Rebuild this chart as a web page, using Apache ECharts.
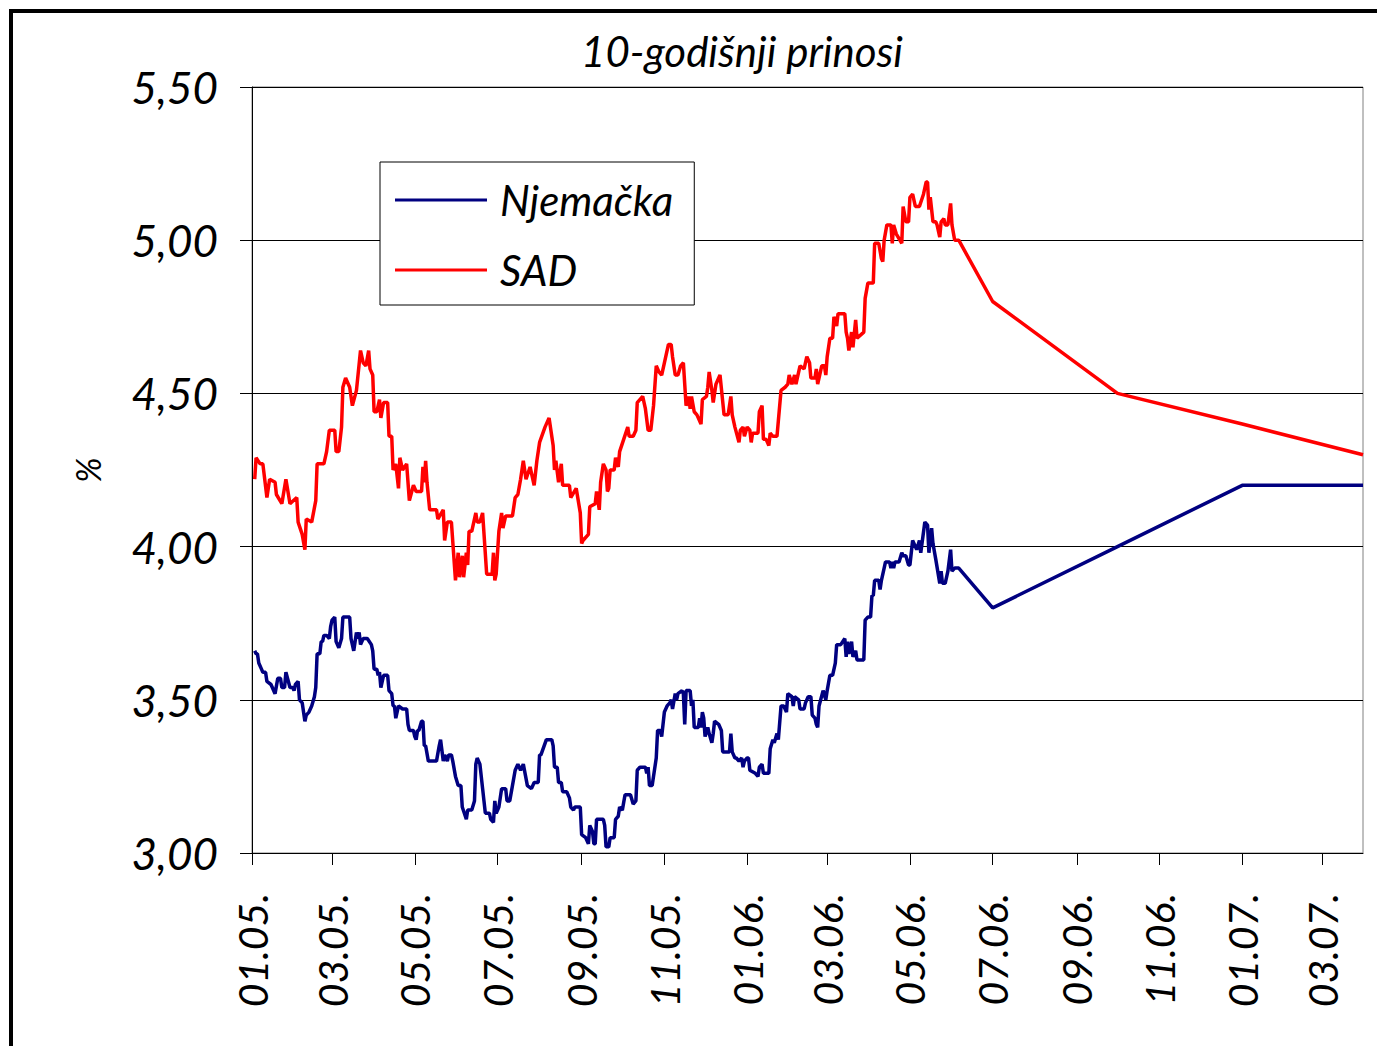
<!DOCTYPE html>
<html>
<head>
<meta charset="utf-8">
<script src="https://cdn.jsdelivr.net/npm/echarts@6/dist/echarts.min.js"></script>
<style>html,body{margin:0;padding:0;background:#fff;}#c{width:1377px;height:1046px;}</style>
</head>
<body>
<div id="c"></div>
<script>
const titleText = '10-godišnji prinosi';
const yAxisName = '%';
const seriesNames = ['Njemačka', 'SAD'];
const yTicks = [3.0, 3.5, 4.0, 4.5, 5.0, 5.5];
const xTickMonths = ['2005-01','2005-03','2005-05','2005-07','2005-09','2005-11','2006-01','2006-03','2006-05','2006-07','2006-09','2006-11','2007-01','2007-03'];
const xMin = '2005-01-01';
const xMax = '2007-03-31';

const usDates = ['2005-01-03','2005-01-04','2005-01-07','2005-01-09','2005-01-12','2005-01-14','2005-01-18','2005-01-19','2005-01-23','2005-01-26','2005-01-29','2005-02-03','2005-02-04','2005-02-07','2005-02-09','2005-02-10','2005-02-14','2005-02-17','2005-02-18','2005-02-23','2005-02-25','2005-02-27','2005-03-03','2005-03-04','2005-03-06','2005-03-08','2005-03-09','2005-03-11','2005-03-14','2005-03-16','2005-03-19','2005-03-22','2005-03-24','2005-03-26','2005-03-28','2005-03-29','2005-03-31','2005-04-01','2005-04-03','2005-04-05','2005-04-06','2005-04-08','2005-04-11','2005-04-12','2005-04-14','2005-04-15','2005-04-17','2005-04-19','2005-04-20','2005-04-22','2005-04-25','2005-04-27','2005-04-30','2005-05-02','2005-05-06','2005-05-07','2005-05-08','2005-05-09','2005-05-10','2005-05-12','2005-05-17','2005-05-18','2005-05-22','2005-05-23','2005-05-25','2005-05-28','2005-05-31','2005-06-02','2005-06-03','2005-06-05','2005-06-06','2005-06-08','2005-06-09','2005-06-10','2005-06-12','2005-06-15','2005-06-16','2005-06-18','2005-06-20','2005-06-23','2005-06-27','2005-06-28','2005-06-29','2005-06-30','2005-07-02','2005-07-04','2005-07-05','2005-07-07','2005-07-12','2005-07-14','2005-07-16','2005-07-18','2005-07-20','2005-07-22','2005-07-25','2005-07-28','2005-07-30','2005-08-01','2005-08-05','2005-08-08','2005-08-11','2005-08-12','2005-08-13','2005-08-15','2005-08-17','2005-08-18','2005-08-23','2005-08-24','2005-08-28','2005-08-31','2005-09-01','2005-09-02','2005-09-06','2005-09-07','2005-09-11','2005-09-12','2005-09-14','2005-09-15','2005-09-17','2005-09-19','2005-09-20','2005-09-21','2005-09-22','2005-09-25','2005-09-26','2005-09-28','2005-09-29','2005-10-02','2005-10-05','2005-10-06','2005-10-09','2005-10-11','2005-10-12','2005-10-16','2005-10-18','2005-10-20','2005-10-22','2005-10-24','2005-10-26','2005-10-28','2005-10-30','2005-11-01','2005-11-04','2005-11-06','2005-11-07','2005-11-09','2005-11-11','2005-11-13','2005-11-15','2005-11-17','2005-11-19','2005-11-20','2005-11-21','2005-11-23','2005-11-25','2005-11-28','2005-11-29','2005-12-02','2005-12-03','2005-12-04','2005-12-06','2005-12-07','2005-12-09','2005-12-12','2005-12-15','2005-12-18','2005-12-20','2005-12-21','2005-12-23','2005-12-26','2005-12-27','2005-12-29','2005-12-30','2006-01-01','2006-01-03','2006-01-04','2006-01-05','2006-01-09','2006-01-10','2006-01-12','2006-01-13','2006-01-15','2006-01-17','2006-01-18','2006-01-20','2006-01-23','2006-01-24','2006-01-26','2006-01-29','2006-01-31','2006-02-01','2006-02-03','2006-02-05','2006-02-06','2006-02-08','2006-02-09','2006-02-12','2006-02-14','2006-02-16','2006-02-17','2006-02-20','2006-02-21','2006-02-22','2006-02-25','2006-02-27','2006-02-28','2006-03-01','2006-03-03','2006-03-05','2006-03-06','2006-03-08','2006-03-09','2006-03-14','2006-03-15','2006-03-16','2006-03-17','2006-03-19','2006-03-20','2006-03-22','2006-03-23','2006-03-28','2006-03-29','2006-03-31','2006-04-04','2006-04-05','2006-04-08','2006-04-10','2006-04-11','2006-04-12','2006-04-14','2006-04-17','2006-04-18','2006-04-19','2006-04-21','2006-04-25','2006-04-26','2006-04-28','2006-04-30','2006-05-01','2006-05-03','2006-05-05','2006-05-08','2006-05-11','2006-05-13','2006-05-14','2006-05-15','2006-05-16','2006-05-18','2006-05-20','2006-05-21','2006-05-23','2006-05-24','2006-05-26','2006-05-27','2006-05-29','2006-05-31','2006-06-01','2006-06-03','2006-06-06','2006-07-01','2006-10-01','2007-01-01','2007-03-31'];
const usValues = [4.22,4.29,4.27,4.27,4.16,4.22,4.21,4.17,4.14,4.22,4.14,4.16,4.08,4.04,3.99,4.09,4.08,4.15,4.27,4.27,4.31,4.38,4.38,4.31,4.31,4.39,4.52,4.55,4.52,4.46,4.51,4.64,4.60,4.59,4.64,4.58,4.56,4.44,4.44,4.48,4.42,4.47,4.47,4.36,4.36,4.25,4.27,4.19,4.29,4.25,4.27,4.15,4.20,4.18,4.18,4.26,4.21,4.28,4.21,4.12,4.12,4.09,4.12,4.02,4.08,4.08,3.89,3.98,3.90,3.97,3.90,3.98,3.94,4.05,4.05,4.11,4.08,4.08,4.11,3.91,3.91,3.98,3.89,3.91,4.05,4.11,4.06,4.10,4.10,4.16,4.17,4.22,4.28,4.22,4.26,4.20,4.28,4.34,4.39,4.42,4.33,4.25,4.28,4.21,4.27,4.20,4.20,4.16,4.19,4.11,4.01,4.02,4.04,4.13,4.14,4.18,4.12,4.21,4.27,4.25,4.18,4.19,4.25,4.25,4.29,4.26,4.31,4.35,4.39,4.36,4.36,4.38,4.47,4.49,4.45,4.38,4.38,4.46,4.59,4.57,4.56,4.60,4.66,4.66,4.62,4.56,4.56,4.59,4.60,4.46,4.49,4.45,4.49,4.44,4.43,4.40,4.48,4.49,4.52,4.57,4.51,4.47,4.53,4.56,4.43,4.43,4.49,4.43,4.39,4.34,4.38,4.39,4.36,4.39,4.38,4.34,4.37,4.37,4.44,4.46,4.35,4.35,4.33,4.37,4.36,4.36,4.41,4.51,4.52,4.53,4.56,4.53,4.56,4.53,4.57,4.59,4.58,4.62,4.60,4.55,4.55,4.58,4.53,4.59,4.59,4.56,4.62,4.68,4.68,4.75,4.72,4.76,4.76,4.70,4.68,4.64,4.70,4.65,4.74,4.68,4.70,4.81,4.86,4.86,4.99,4.99,4.94,4.93,5.00,5.05,5.05,4.99,5.05,5.02,4.99,5.11,5.06,5.06,5.14,5.15,5.11,5.11,5.15,5.19,5.19,5.10,5.14,5.06,5.06,5.05,5.01,5.06,5.07,5.05,5.05,5.12,5.05,5.00,5.00,4.80,4.50,4.40,4.30];

const deDates = ['2005-01-03','2005-01-04','2005-01-05','2005-01-06','2005-01-08','2005-01-09','2005-01-11','2005-01-12','2005-01-15','2005-01-18','2005-01-20','2005-01-22','2005-01-23','2005-01-25','2005-01-26','2005-01-29','2005-01-31','2005-02-01','2005-02-02','2005-02-04','2005-02-05','2005-02-07','2005-02-09','2005-02-10','2005-02-12','2005-02-14','2005-02-16','2005-02-17','2005-02-18','2005-02-20','2005-02-21','2005-02-22','2005-02-23','2005-02-25','2005-02-27','2005-02-28','2005-03-01','2005-03-03','2005-03-04','2005-03-06','2005-03-08','2005-03-09','2005-03-14','2005-03-15','2005-03-17','2005-03-19','2005-03-20','2005-03-21','2005-03-22','2005-03-24','2005-03-27','2005-03-30','2005-03-31','2005-04-01','2005-04-03','2005-04-04','2005-04-05','2005-04-06','2005-04-08','2005-04-11','2005-04-12','2005-04-14','2005-04-15','2005-04-16','2005-04-17','2005-04-19','2005-04-22','2005-04-25','2005-04-26','2005-04-27','2005-04-30','2005-05-01','2005-05-02','2005-05-03','2005-05-04','2005-05-06','2005-05-07','2005-05-08','2005-05-09','2005-05-11','2005-05-17','2005-05-19','2005-05-20','2005-05-22','2005-05-23','2005-05-25','2005-05-26','2005-05-28','2005-05-29','2005-05-31','2005-06-02','2005-06-04','2005-06-05','2005-06-08','2005-06-09','2005-06-12','2005-06-14','2005-06-15','2005-06-16','2005-06-18','2005-06-20','2005-06-21','2005-06-22','2005-06-25','2005-06-26','2005-06-28','2005-06-29','2005-06-30','2005-07-02','2005-07-04','2005-07-07','2005-07-08','2005-07-10','2005-07-12','2005-07-14','2005-07-16','2005-07-18','2005-07-20','2005-07-23','2005-07-26','2005-07-28','2005-07-31','2005-08-01','2005-08-02','2005-08-06','2005-08-10','2005-08-11','2005-08-12','2005-08-14','2005-08-15','2005-08-17','2005-08-18','2005-08-21','2005-08-23','2005-08-24','2005-08-26','2005-08-27','2005-08-31','2005-09-01','2005-09-04','2005-09-06','2005-09-07','2005-09-09','2005-09-10','2005-09-11','2005-09-12','2005-09-14','2005-09-15','2005-09-17','2005-09-18','2005-09-19','2005-09-21','2005-09-22','2005-09-25','2005-09-26','2005-09-28','2005-09-29','2005-10-01','2005-10-03','2005-10-07','2005-10-09','2005-10-11','2005-10-12','2005-10-14','2005-10-18','2005-10-19','2005-10-20','2005-10-21','2005-10-23','2005-10-26','2005-10-27','2005-10-29','2005-10-30','2005-11-01','2005-11-03','2005-11-05','2005-11-06','2005-11-07','2005-11-09','2005-11-10','2005-11-11','2005-11-14','2005-11-15','2005-11-16','2005-11-17','2005-11-19','2005-11-20','2005-11-21','2005-11-22','2005-11-23','2005-11-26','2005-11-27','2005-11-28','2005-11-29','2005-11-30','2005-12-01','2005-12-03','2005-12-04','2005-12-06','2005-12-07','2005-12-08','2005-12-11','2005-12-13','2005-12-14','2005-12-19','2005-12-20','2005-12-21','2005-12-23','2005-12-24','2005-12-26','2005-12-28','2005-12-29','2005-12-30','2006-01-01','2006-01-02','2006-01-03','2006-01-07','2006-01-09','2006-01-10','2006-01-12','2006-01-13','2006-01-17','2006-01-18','2006-01-20','2006-01-21','2006-01-23','2006-01-24','2006-01-26','2006-01-28','2006-01-30','2006-01-31','2006-02-03','2006-02-04','2006-02-05','2006-02-08','2006-02-09','2006-02-12','2006-02-13','2006-02-15','2006-02-17','2006-02-18','2006-02-20','2006-02-21','2006-02-22','2006-02-23','2006-02-26','2006-02-28','2006-03-01','2006-03-03','2006-03-05','2006-03-07','2006-03-08','2006-03-11','2006-03-14','2006-03-15','2006-03-16','2006-03-17','2006-03-19','2006-03-20','2006-03-22','2006-03-23','2006-03-28','2006-03-29','2006-03-31','2006-04-02','2006-04-03','2006-04-04','2006-04-05','2006-04-08','2006-04-09','2006-04-10','2006-04-12','2006-04-13','2006-04-16','2006-04-17','2006-04-18','2006-04-19','2006-04-20','2006-04-23','2006-04-25','2006-04-26','2006-04-28','2006-04-30','2006-05-01','2006-05-02','2006-05-03','2006-05-06','2006-05-08','2006-05-09','2006-05-12','2006-05-14','2006-05-15','2006-05-17','2006-05-18','2006-05-20','2006-05-23','2006-05-24','2006-05-25','2006-05-27','2006-05-29','2006-05-31','2006-06-01','2006-06-03','2006-06-06','2006-07-01','2006-10-01','2007-01-01','2007-03-31'];
const deValues = [3.66,3.65,3.65,3.62,3.60,3.59,3.59,3.56,3.55,3.52,3.57,3.57,3.54,3.54,3.59,3.54,3.54,3.53,3.55,3.56,3.50,3.49,3.43,3.45,3.46,3.48,3.51,3.54,3.65,3.65,3.69,3.69,3.71,3.71,3.70,3.74,3.76,3.77,3.69,3.67,3.70,3.77,3.77,3.70,3.66,3.72,3.70,3.72,3.68,3.70,3.70,3.68,3.66,3.60,3.60,3.58,3.59,3.54,3.58,3.58,3.53,3.52,3.48,3.48,3.44,3.48,3.47,3.47,3.42,3.40,3.40,3.38,3.37,3.40,3.40,3.43,3.43,3.35,3.35,3.30,3.30,3.35,3.37,3.30,3.32,3.30,3.32,3.32,3.30,3.25,3.22,3.22,3.15,3.11,3.14,3.14,3.17,3.29,3.31,3.29,3.21,3.17,3.13,3.13,3.11,3.10,3.17,3.13,3.15,3.21,3.21,3.17,3.17,3.22,3.27,3.29,3.27,3.29,3.22,3.21,3.23,3.23,3.32,3.32,3.37,3.37,3.35,3.28,3.28,3.23,3.23,3.20,3.20,3.18,3.15,3.14,3.15,3.15,3.06,3.05,3.03,3.09,3.07,3.03,3.03,3.11,3.11,3.11,3.11,3.09,3.02,3.02,3.05,3.05,3.11,3.12,3.15,3.14,3.19,3.19,3.16,3.17,3.27,3.28,3.28,3.26,3.28,3.22,3.22,3.31,3.40,3.40,3.38,3.46,3.48,3.49,3.50,3.47,3.52,3.50,3.52,3.53,3.52,3.42,3.53,3.53,3.53,3.48,3.50,3.41,3.41,3.44,3.41,3.46,3.44,3.38,3.41,3.39,3.36,3.39,3.43,3.42,3.40,3.33,3.33,3.39,3.33,3.31,3.31,3.30,3.31,3.28,3.30,3.31,3.31,3.27,3.26,3.25,3.28,3.29,3.26,3.26,3.34,3.37,3.36,3.39,3.37,3.48,3.48,3.46,3.52,3.51,3.48,3.51,3.50,3.47,3.47,3.49,3.51,3.51,3.45,3.44,3.42,3.41,3.48,3.53,3.50,3.53,3.58,3.58,3.62,3.68,3.68,3.70,3.64,3.69,3.65,3.69,3.64,3.66,3.63,3.63,3.76,3.77,3.77,3.84,3.84,3.89,3.89,3.86,3.89,3.93,3.95,3.95,3.93,3.95,3.93,3.95,3.95,3.98,3.97,3.97,3.94,3.94,3.98,4.02,3.99,4.02,3.98,4.08,4.07,3.98,4.06,4.01,3.96,3.88,3.92,3.88,3.88,3.92,3.99,3.92,3.93,3.93,3.80,4.00,4.20,4.20];

function parseDay(s) {
  const p = s.split('-').map(Number);
  return Date.UTC(p[0], p[1] - 1, p[2] || 1);
}
function pairs(dates, vals) { return dates.map((d, i) => [parseDay(d), vals[i]]); }

const FONT = 'Lato, "Open Sans", "DejaVu Sans", sans-serif';
const chart = echarts.init(document.getElementById('c'), null, { renderer: 'svg' });
const xTickValues = xTickMonths.map(parseDay);

chart.setOption({
  animation: false,
  backgroundColor: '#ffffff',
  grid: { left: 252, right: 14, top: 87, bottom: 193, show: true, borderColor: '#808080', borderWidth: 1, backgroundColor: 'transparent' },
  graphic: [
    { type: 'rect', silent: true, z: 100, shape: { x: 11, y: 11, width: 1420, height: 1100 }, style: { fill: 'none', stroke: '#000', lineWidth: 4 } },
    { type: 'text', x: 742, y: 51, style: { text: titleText, fontSize: 42, fontStyle: 'italic', fontFamily: FONT, fill: '#000', textAlign: 'center', textVerticalAlign: 'middle' } }
  ],
  legend: {
    left: 380, top: 162, orient: 'vertical',
    data: seriesNames,
    icon: 'rect', itemWidth: 92, itemHeight: 3, itemGap: 20,
    padding: [13, 21, 10, 15],
    backgroundColor: '#fff', borderColor: '#000', borderWidth: 1, borderRadius: 0,
    textStyle: { fontSize: 42, fontStyle: 'italic', fontFamily: FONT, color: '#000', lineHeight: 50, padding: [0, 0, 0, 8] },
    z: 10
  },
  xAxis: {
    type: 'value',
    min: parseDay(xMin), max: parseDay(xMax),
    axisLine: { show: true, onZero: false, lineStyle: { color: '#000', width: 1 } },
    axisTick: { show: true, length: 12, customValues: xTickValues, lineStyle: { color: '#000' } },
    splitLine: { show: false },
    axisLabel: {
      customValues: xTickValues,
      rotate: 90, margin: 40,
      fontSize: 41, fontStyle: 'italic', fontFamily: FONT, color: '#000',
      formatter: function (v) { const d = new Date(v); const m = d.getUTCMonth() + 1; const y = d.getUTCFullYear() % 100; return (m < 10 ? '0' : '') + m + '.' + (y < 10 ? '0' : '') + y + '.'; }
    }
  },
  yAxis: {
    type: 'value', min: yTicks[0], max: yTicks[yTicks.length - 1], interval: 0.5,
    name: yAxisName, nameLocation: 'middle', nameGap: 148, nameRotate: 90,
    nameTextStyle: { fontSize: 34, fontStyle: 'italic', fontFamily: FONT, color: '#000' },
    axisLine: { show: true, lineStyle: { color: '#000', width: 1 } },
    axisTick: { show: true, inside: false, length: 12, lineStyle: { color: '#000' } },
    splitLine: { show: true, lineStyle: { color: '#000', width: 1 } },
    axisLabel: { margin: 34, fontSize: 44, fontStyle: 'italic', fontFamily: FONT, color: '#000', formatter: v => v.toFixed(2).replace('.', ',') }
  },
  series: [
    { name: seriesNames[0], type: 'line', data: pairs(deDates, deValues), showSymbol: false, symbol: 'none', color: '#000080', lineStyle: { color: '#000080', width: 3.5 }, z: 3 },
    { name: seriesNames[1], type: 'line', data: pairs(usDates, usValues), showSymbol: false, symbol: 'none', color: '#ff0000', lineStyle: { color: '#ff0000', width: 3.5 }, z: 3 }
  ]
});
</script>
</body>
</html>
